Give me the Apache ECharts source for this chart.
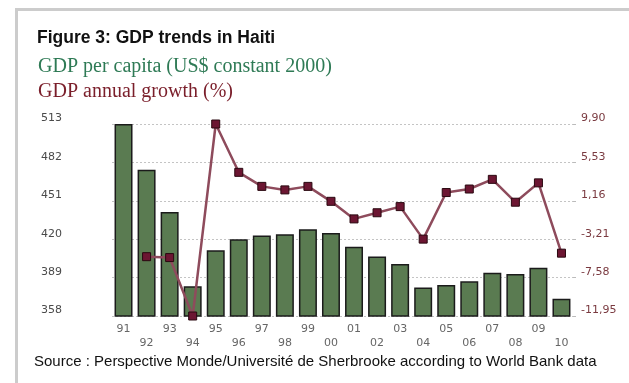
<!DOCTYPE html>
<html>
<head>
<meta charset="utf-8">
<title>GDP trends in Haiti</title>
<script src="https://cdn.jsdelivr.net/npm/echarts@6/dist/echarts.min.js"></script>
<style>
  html, body { margin: 0; padding: 0; background: #fff; }
  #chart { width: 629px; height: 383px; }
</style>
</head>
<body>
<div id="chart"></div>
<script>
// Years (two-digit labels), 1991 to 2010
const years = ['91','92','93','94','95','96','97','98','99','00','01','02','03','04','05','06','07','08','09','10'];

// GDP per capita, US$ constant 2000
const gdpPerCapita = [513, 476, 442, 382, 411, 420, 423, 424, 428, 425, 414, 406, 400, 381, 383, 386, 393, 392, 397, 372];

// GDP annual growth, % (no value for 1991)
const gdpGrowth = [null, -5.2, -5.3, -11.95, 9.90, 4.4, 2.8, 2.4, 2.8, 1.1, -0.9, -0.2, 0.5, -3.2, 2.1, 2.5, 3.6, 1.0, 3.2, -4.8];

// Axis scales
const leftAxis = { min: 358, max: 513, step: 31 };
const rightAxis = { min: -11.95, max: 9.90, step: 4.37 };

// Heading and source lines
const titleText = 'Figure 3: GDP trends in Haiti';
const legendBars = 'GDP per capita (US$ constant 2000)';
const legendLine = 'GDP annual growth (%)';
const sourceText = 'Source : Perspective Monde/Université de Sherbrooke according to World Bank data';

const chart = echarts.init(document.getElementById('chart'), null, { renderer: 'canvas' });

const option = {
  backgroundColor: '#ffffff',
  animation: false,
  grid: { left: 112, right: 56, top: 124, bottom: 67 },
  graphic: [
    { type: 'rect', shape: { x: 15, y: 8, width: 3, height: 375 }, style: { fill: '#cccccc' } },
    { type: 'rect', shape: { x: 15, y: 8, width: 614, height: 3 }, style: { fill: '#cccccc' } },
    { type: 'text', left: 37, top: 29, style: { text: titleText, font: 'bold 17.5px "Liberation Sans", Arial, sans-serif', fill: '#111111' } },
    { type: 'text', left: 38, top: 57, style: { text: legendBars, font: '20px "Liberation Serif", "Times New Roman", serif', fill: '#2e7a55' } },
    { type: 'text', left: 38, top: 82, style: { text: legendLine, font: '20px "Liberation Serif", "Times New Roman", serif', fill: '#7a1e2a' } },
    { type: 'text', left: 34, top: 354, style: { text: sourceText, font: '15px "Liberation Sans", Arial, sans-serif', fill: '#111111' } }
  ],
  xAxis: {
    type: 'category',
    data: years,
    axisLine: { show: false },
    axisTick: { show: false },
    axisLabel: {
      interval: 0,
      margin: 6,
      color: '#666666',
      fontFamily: '"DejaVu Sans", Verdana, sans-serif',
      fontSize: 11,
      lineHeight: 14,
      formatter: function (v, i) { return i % 2 === 1 ? '\n' + v : v; }
    }
  },
  yAxis: [
    {
      type: 'value',
      min: leftAxis.min,
      max: leftAxis.max,
      interval: leftAxis.step,
      axisLine: { show: false },
      axisTick: { show: false },
      axisLabel: {
        margin: 50,
        color: '#4a4a4a',
        fontFamily: '"DejaVu Sans", Verdana, sans-serif',
        fontSize: 11,
        verticalAlign: 'bottom'
      },
      splitLine: { show: true, lineStyle: { color: '#c4c4c4', type: [2, 2], width: 1 } }
    },
    {
      type: 'value',
      min: rightAxis.min,
      max: rightAxis.max,
      interval: rightAxis.step,
      axisLine: { show: false },
      axisTick: { show: true, length: 3, lineStyle: { color: '#bbbbbb' } },
      axisLabel: {
        margin: 8,
        color: '#7a3a40',
        fontFamily: '"DejaVu Sans", Verdana, sans-serif',
        fontSize: 11,
        verticalAlign: 'bottom',
        formatter: function (v) { return v.toFixed(2).replace('.', ','); }
      },
      splitLine: { show: false }
    }
  ],
  series: [
    {
      name: legendBars,
      type: 'bar',
      yAxisIndex: 0,
      data: gdpPerCapita,
      barWidth: '78%',
      itemStyle: { color: '#5a7b51', borderColor: '#1b1b1b', borderWidth: 1.5 }
    },
    {
      name: legendLine,
      type: 'line',
      yAxisIndex: 1,
      data: gdpGrowth,
      connectNulls: false,
      symbol: 'rect',
      symbolSize: 8,
      lineStyle: { color: '#8e4b5c', width: 2.5 },
      itemStyle: { color: '#6c1632', borderColor: '#2a0810', borderWidth: 1 },
      z: 5
    }
  ]
};

chart.setOption(option);
</script>
</body>
</html>
